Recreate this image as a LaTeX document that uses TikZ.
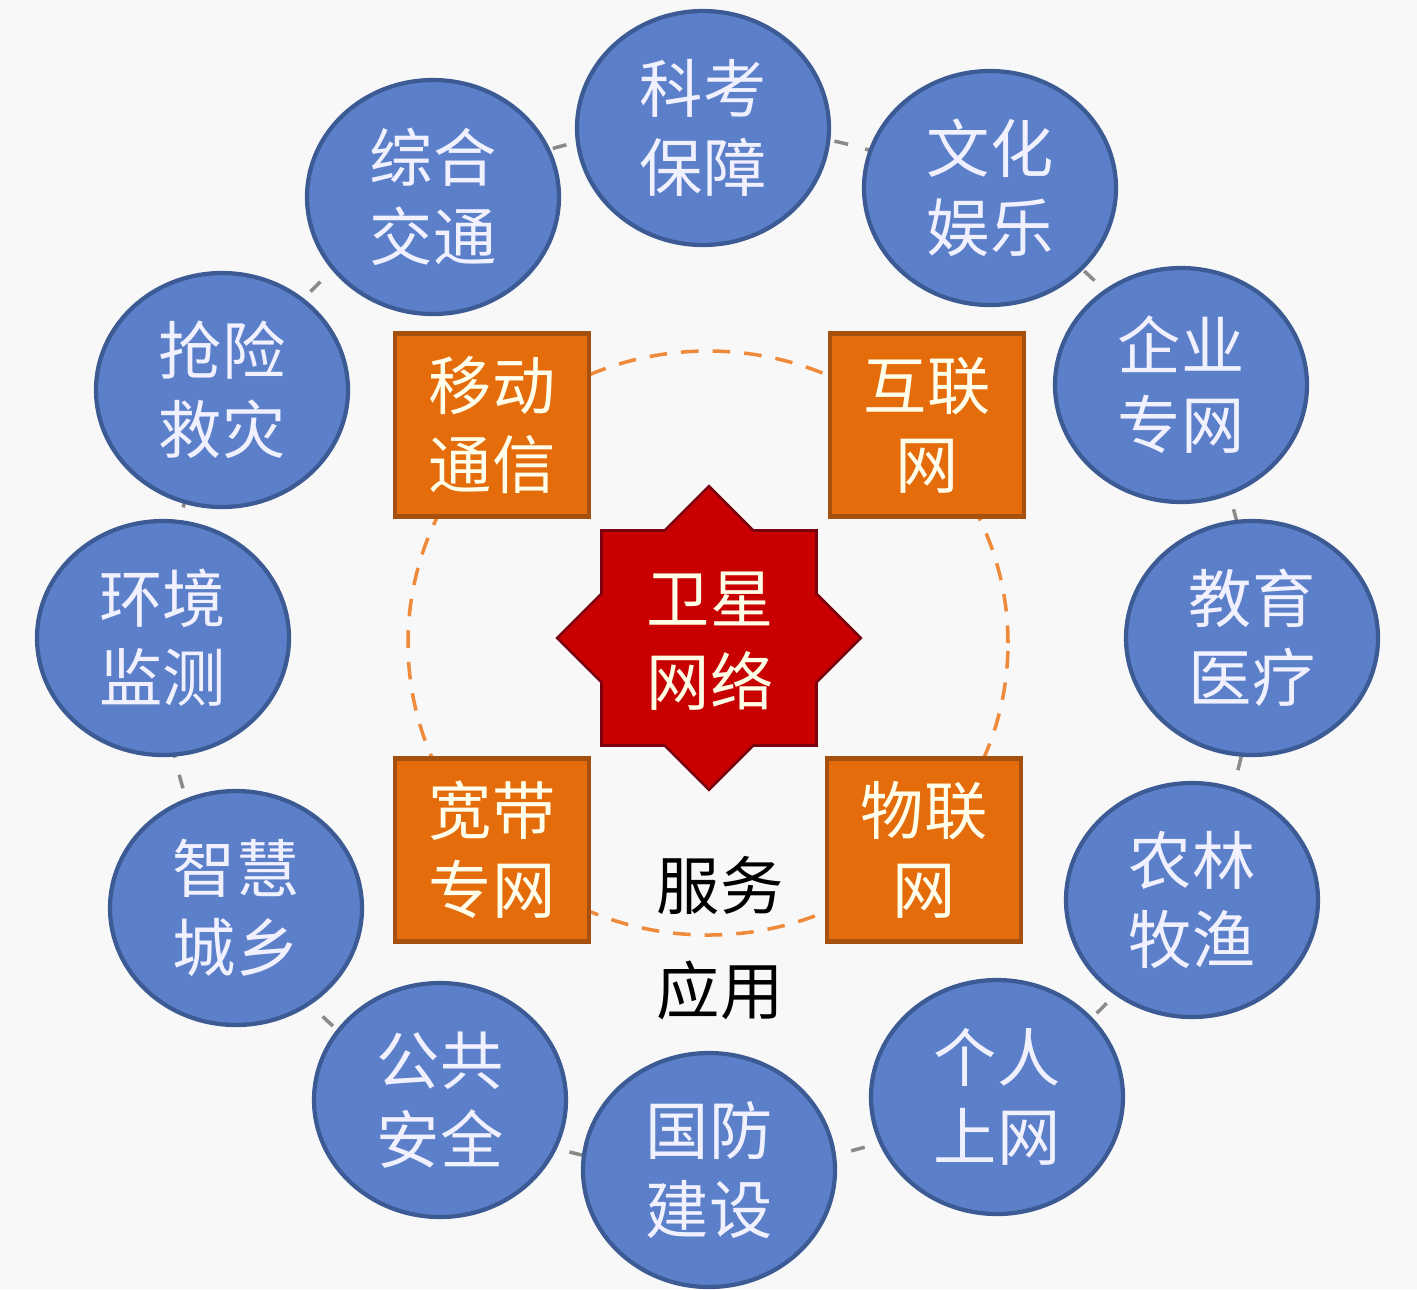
\documentclass[tikz,border=0pt]{standalone}
\usepackage{fontspec}
\newfontfamily\cjk{Noto Sans CJK SC}
\usetikzlibrary{shapes.geometric}

\definecolor{bgcol}{HTML}{F8F8F8}
\definecolor{ballfill}{HTML}{5B7FC8}
\definecolor{balledge}{HTML}{3C5A94}
\definecolor{boxfill}{HTML}{E46C0A}
\definecolor{boxedge}{HTML}{A5500C}
\definecolor{starfill}{HTML}{C80000}
\definecolor{staredge}{HTML}{7A0010}
\definecolor{ringgray}{HTML}{8A8A8A}
\definecolor{ringorange}{HTML}{EE8A3A}

\tikzset{
  ball/.style={ellipse,draw=balledge,line width=1.2pt,fill=ballfill,
    minimum width=2.52cm,minimum height=2.34cm,inner sep=0pt,
    text=white!94!blue,align=center,font=\cjk\fontsize{18}{22.5}\selectfont},
  sbox/.style={rectangle,draw=boxedge,line width=1.2pt,fill=boxfill,
    minimum width=1.94cm,minimum height=1.83cm,inner sep=0pt,
    text=white!92!yellow,align=center,font=\cjk\fontsize{18}{22.5}\selectfont},
  starsq/.style={rectangle,minimum size=2.12cm,inner sep=0pt},
}

\begin{document}
\begin{tikzpicture}[x=1cm,y=1cm]

\fill[bgcol] (0,0) rectangle (14.17,-12.89);
\useasboundingbox (0,0) rectangle (14.17,-12.89);

% rings
\coordinate (o) at (7.08,-6.48);
\draw[ringgray,line width=1pt,dash pattern=on 4pt off 5pt] (o) ellipse (5.45 and 5.21);
\draw[ringorange,line width=1pt,dash pattern=on 5pt off 4pt] (7.08,-6.43) ellipse (3.00 and 2.92);

% outer circles
\node[ball] (kk) at (7.03,-1.28) {科考\\保障};
\node[ball] (wh) at (9.90,-1.88) {文化\\娱乐};
\node[ball] (qy) at (11.81,-3.85) {企业\\专网};
\node[ball] (jy) at (12.52,-6.38) {教育\\医疗};
\node[ball] (nl) at (11.92,-9.00) {农林\\牧渔};
\node[ball] (gr) at (9.97,-10.97) {个人\\上网};
\node[ball] (gf) at (7.09,-11.70) {国防\\建设};
\node[ball] (gg) at (4.40,-11.00) {公共\\安全};
\node[ball] (zh) at (2.36,-9.08) {智慧\\城乡};
\node[ball] (hj) at (1.63,-6.38) {环境\\监测};
\node[ball] (qx) at (2.22,-3.90) {抢险\\救灾};
\node[ball] (zt) at (4.33,-1.97) {综合\\交通};

% orange boxes
\node[sbox] (yd) at (4.92,-4.25) {移动\\通信};
\node[sbox] (hl) at (9.27,-4.25) {互联\\网};
\node[sbox] (kd) at (4.92,-8.50) {宽带\\专网};
\node[sbox] (wl) at (9.24,-8.50) {物联\\网};

% star
\node[starsq,draw=staredge,line width=1.5pt] (sqa) at (7.09,-6.38) {};
\node[starsq,draw=staredge,line width=1.5pt,rotate=45] (sqb) at (7.09,-6.38) {};
\node[starsq,fill=starfill] at (7.09,-6.38) {};
\node[starsq,fill=starfill,rotate=45] at (7.09,-6.38) {};
\node[text=white!90!yellow,align=center,font=\cjk\fontsize{18}{23.5}\selectfont] (wx) at (7.10,-6.41) {卫星\\网络};

\node[align=center,font=\cjk\fontsize{18}{29.8}\selectfont] (fw) at (7.20,-9.38) {服务\\应用};

\end{tikzpicture}
\end{document}
